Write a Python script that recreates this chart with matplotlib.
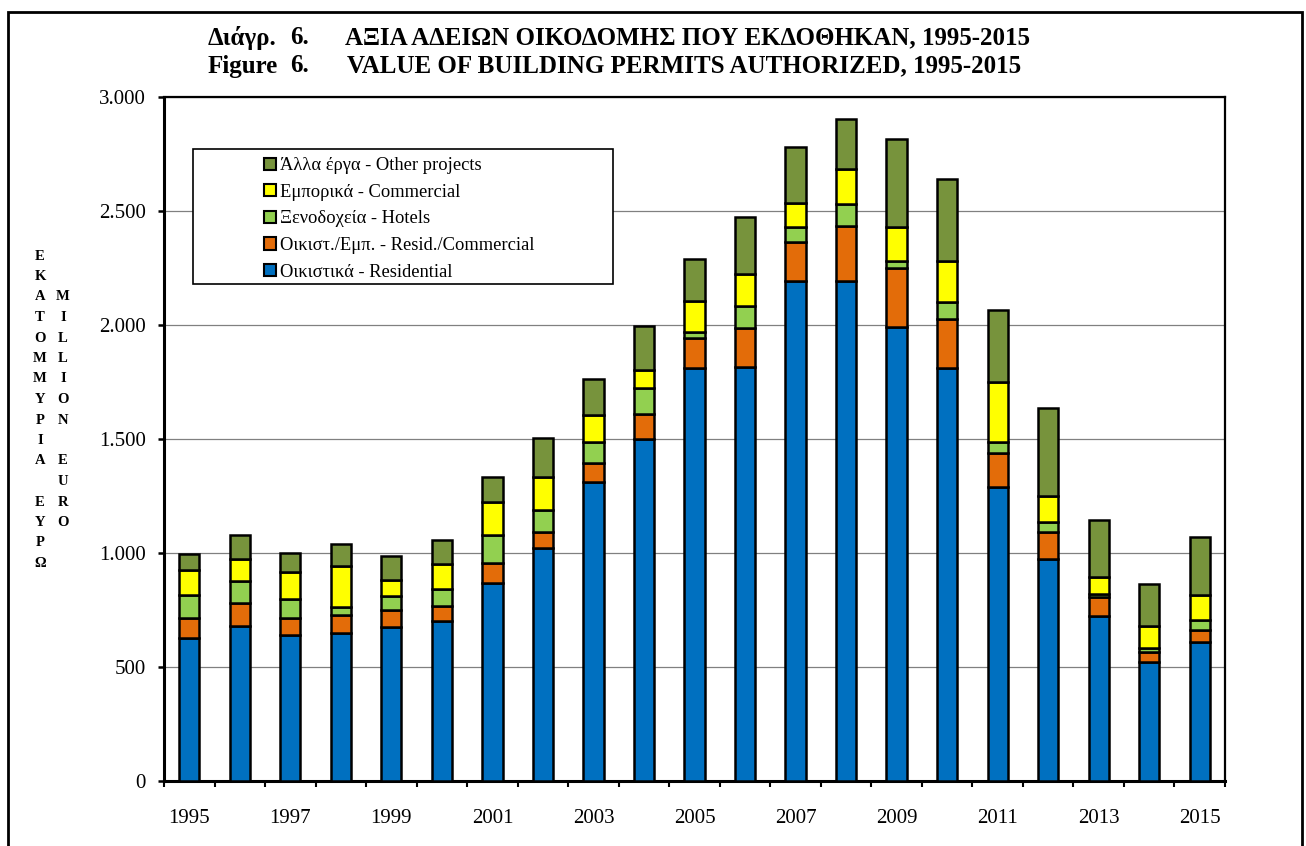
import numpy as np
import matplotlib.pyplot as plt
from matplotlib.ticker import FuncFormatter, MultipleLocator
from matplotlib.patches import Rectangle

plt.rcParams['font.family'] = ['Liberation Serif', 'DejaVu Serif']

years = np.arange(1995, 2016)
# million euro
residential = [626, 680, 640, 648, 677, 702, 867, 1023, 1310, 1499, 1810,
               1817, 2194, 2194, 1993, 1813, 1288, 972, 724, 523, 611]
resid_comm = [88, 99, 74, 80, 73, 66, 87, 70, 83, 111, 132,
              171, 171, 242, 258, 212, 152, 121, 84, 41, 51]
hotels = [102, 98, 83, 34, 63, 73, 125, 96, 95, 115, 29,
          95, 66, 93, 30, 77, 46, 44, 11, 21, 44]
commercial = [109, 95, 118, 182, 69, 109, 146, 146, 117, 78, 134,
              139, 106, 154, 150, 179, 265, 114, 77, 96, 110]
other = [69, 107, 86, 95, 105, 107, 107, 168, 157, 193, 183,
         253, 242, 219, 383, 358, 315, 384, 249, 182, 256]

series = [residential, resid_comm, hotels, commercial, other]
labels = ['Οικιστικά - Residential', 'Οικιστ./Εμπ. - Resid./Commercial',
          'Ξενοδοχεία - Hotels', 'Εμπορικά - Commercial',
          'Άλλα έργα - Other projects']
colors = ['#0070C0', '#E36C09', '#92D050', '#FFFF00', '#77933C']

W, H = 1306, 846
fig = plt.figure(figsize=(W / 100, H / 100), dpi=100)
ax = fig.add_axes([164 / W, 1 - 781 / H, (1225 - 164) / W, (781 - 97) / H])

x = np.arange(len(years))
bottom = np.zeros(len(years))
handles = []
for vals, lab, col in zip(series, labels, colors):
    b = ax.bar(x, vals, width=0.4, bottom=bottom, color=col, edgecolor='black',
               linewidth=1.8, label=lab, zorder=3)
    handles.append(b)
    bottom += np.array(vals)

ax.set_xlim(-0.5, len(years) - 0.5)
ax.set_ylim(0, 3000)
ax.yaxis.set_major_locator(MultipleLocator(500))
ax.yaxis.set_major_formatter(FuncFormatter(lambda v, p: f'{int(v):,}'.replace(',', '.')))
ax.grid(axis='y', color='#808080', linewidth=0.9, zorder=0)

ax.set_xticks(x[::2])
ax.set_xticklabels([str(y) for y in years[::2]])
ax.set_xticks(np.arange(-0.5, len(years), 1.0), minor=True)
ax.tick_params(axis='x', which='major', length=0, pad=20, labelsize=15)
ax.tick_params(axis='x', which='minor', direction='out', length=4, width=1.5)
ax.tick_params(axis='y', direction='out', length=4, width=1.8, labelsize=15, pad=9)

for s in ['left', 'bottom']:
    ax.spines[s].set_linewidth(2.2)
for s in ['top', 'right']:
    ax.spines[s].set_linewidth(1.6)

# legend box wider than its text, as in the original
ax.add_patch(Rectangle((0.0273, 0.7266), 0.3957, 0.1974, transform=ax.transAxes,
                       facecolor='white', edgecolor='black', linewidth=1.2, zorder=4))
leg = ax.legend(handles[::-1], labels[::-1], loc='upper left',
                bbox_to_anchor=(0.094, 0.912), frameon=False, fontsize=13.3,
                handlelength=0.65, handleheight=0.65, handletextpad=0.25,
                labelspacing=0.52, borderpad=0, borderaxespad=0)
leg.set_zorder(5)
for h in leg.legend_handles:
    h.set_linewidth(1.5)

# title
t1 = 1 - 38 / H
t2 = 1 - 66 / H
kw = dict(fontsize=18, fontweight='bold', va='center', ha='left')
fig.text(208 / W, t1, 'Διάγρ.', **kw)
fig.text(290 / W, t1, '6.', **kw)
fig.text(345 / W, t1, 'ΑΞΙΑ ΑΔΕΙΩΝ ΟΙΚΟΔΟΜΗΣ ΠΟΥ ΕΚΔΟΘΗΚΑΝ, 1995-2015', **kw)
fig.text(208 / W, t2, 'Figure', **kw)
fig.text(290 / W, t2, '6.', **kw)
fig.text(347 / W, t2, 'VALUE OF BUILDING PERMITS AUTHORIZED, 1995-2015', **kw)

# vertical stacked axis titles
col1 = 'ΕΚΑΤΟΜΜΥΡΙΑ ΕΥΡΩ'
col2 = 'MILLION EURO'
step = 20.5
for i, ch in enumerate(col1):
    fig.text(40 / W, 1 - (256 + i * step) / H, ch, fontsize=10.5, fontweight='bold',
             ha='center', va='center')
for i, ch in enumerate(col2):
    fig.text(63 / W, 1 - (256 + (i + 2) * step) / H, ch, fontsize=10.5, fontweight='bold',
             ha='center', va='center')

# outer frame
fig.add_artist(Rectangle((8 / W, -0.01), (1302 - 8) / W, 1.01 - 12 / H,
                         transform=fig.transFigure, fill=False,
                         edgecolor='black', linewidth=2))

fig.savefig('out.png', dpi=100)
